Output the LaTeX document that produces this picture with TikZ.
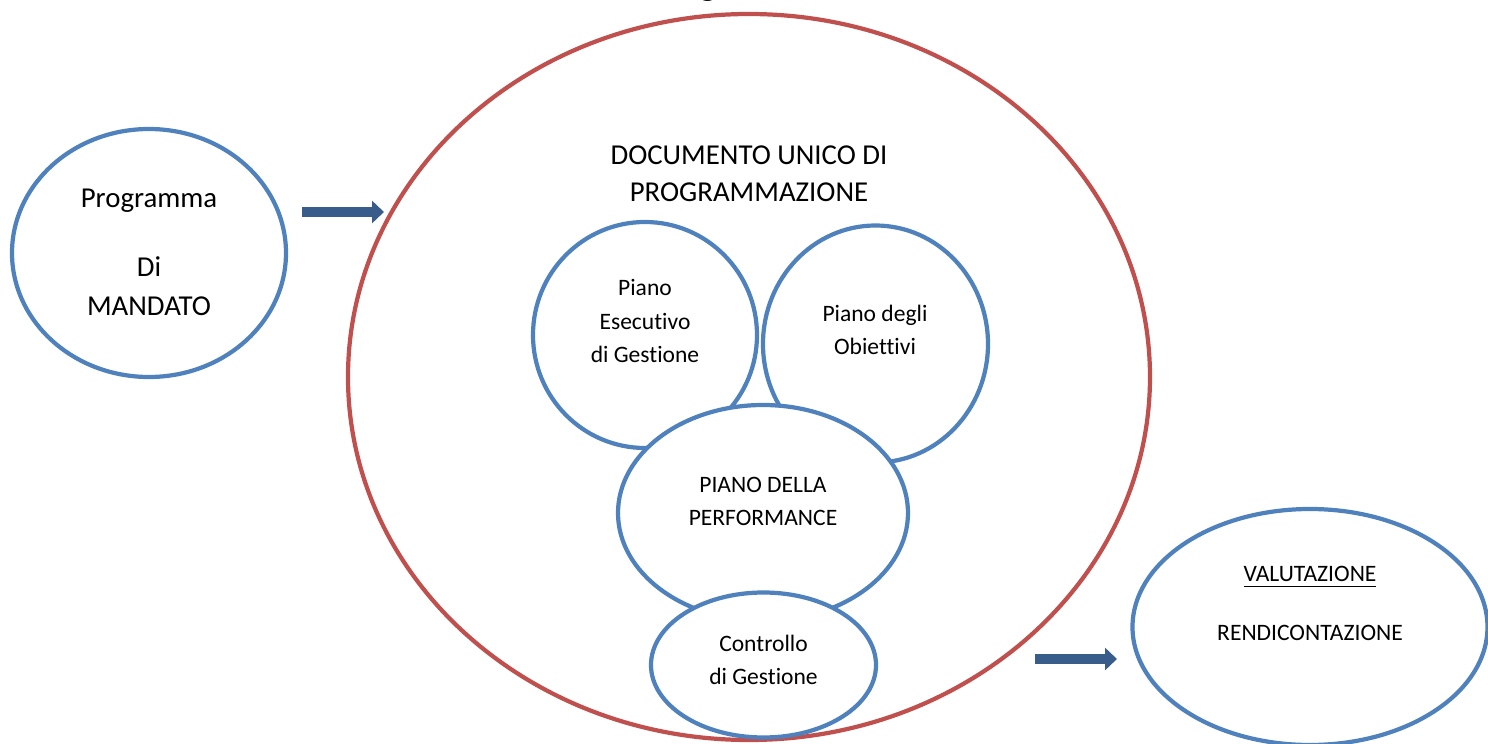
\documentclass[tikz,border=0pt]{standalone}
\usepackage{fontspec}
\setmainfont{Carlito}[RawFeature=-liga]
\usetikzlibrary{calc,shapes.geometric,arrows.meta}
\definecolor{bordoblu}{HTML}{4F81BD}
\definecolor{bordorosso}{HTML}{C0504D}
\definecolor{frecciablu}{HTML}{385D8A}
\tikzset{
	bolla/.style={ellipse, draw=bordoblu, line width=1.2pt, fill=white, inner sep=0pt, outer sep=0pt},
	contenitore/.style={ellipse, draw=bordorosso, line width=1.2pt, inner sep=0pt, outer sep=0pt},
	freccia/.style={draw=frecciablu, line width=0.1cm, -{Triangle[length=0.12cm,width=0.22cm]}},
	grande/.style={align=center, font=\fontsize{8.2}{10.5}\selectfont},
	piccolo/.style={align=center, font=\fontsize{6.7}{9.6}\selectfont}
}

\begin{document}
\begin{tikzpicture}
			%%%%% START %%%%%
			\useasboundingbox (0, 0) rectangle (14.88, 7.44);
			
			\node[font=\fontsize{10}{12}\selectfont\bfseries, anchor=base] (titolo) at (7.08, 7.48) {g};
			
			\node[contenitore, minimum width=8.02cm, minimum height=7.26cm] (dup) at (7.49, 3.67) {};
			\node[grande] (t-dup) at (7.49, 5.705) {DOCUMENTO UNICO DI\\PROGRAMMAZIONE};
			
			\node[bolla, minimum width=2.74cm, minimum height=2.48cm] (mandato) at (1.49, 4.91) {};
			\node[grande, font=\fontsize{8.2}{11.3}\selectfont] (t-mandato) at (1.49, 4.915) {Programma\\[8.3pt]Di\\MANDATO};
			
			\node[bolla, minimum width=2.24cm, minimum height=2.26cm] (peg) at (6.45, 4.09) {};
			\node[piccolo] (t-peg) at (6.45, 4.23) {Piano\\Esecutivo\\di Gestione};
			
			\node[bolla, minimum width=2.25cm, minimum height=2.37cm] (pdo) at (8.755, 4.0) {};
			\node[piccolo] (t-pdo) at (8.75, 4.14) {Piano degli\\Obiettivi};
			
			\node[bolla, minimum width=2.9cm, minimum height=2.16cm] (perf) at (7.63, 2.31) {};
			\node[piccolo] (t-perf) at (7.63, 2.425) {PIANO DELLA\\PERFORMANCE};
			
			\node[bolla, minimum width=2.25cm, minimum height=1.45cm] (cdg) at (7.635, 0.79) {};
			\node[piccolo] (t-cdg) at (7.635, 0.84) {Controllo\\di Gestione};
			
			\node[bolla, minimum width=3.55cm, minimum height=2.36cm] (val) at (13.1, 1.17) {};
			\node[piccolo] (t-val) at (13.1, 1.405) {\underline{VALUTAZIONE}\\[7.4pt]RENDICONTAZIONE};
			
			\coordinate (f1a) at (3.02, 5.32);
			\coordinate (f1b) at (3.84, 5.32);
			\draw[freccia] (f1a) -- (f1b);
			
			\coordinate (f2a) at (10.35, 0.85);
			\coordinate (f2b) at (11.17, 0.85);
			\draw[freccia] (f2a) -- (f2b);
			
			%%%%% END %%%%%
\end{tikzpicture}
\end{document}
